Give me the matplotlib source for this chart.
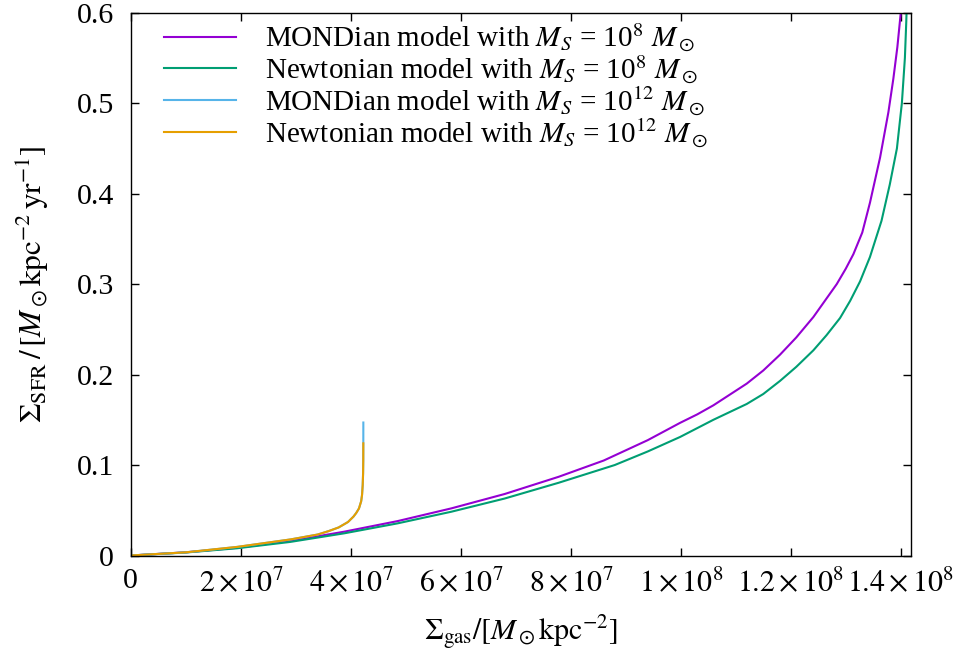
import matplotlib
matplotlib.use("Agg")
import matplotlib.pyplot as plt
import numpy as np

plt.rcParams['font.family'] = ['Liberation Serif', 'DejaVu Serif']
plt.rcParams['mathtext.fontset'] = 'stix'

### DATA ###
# Sigma_gas in units of 1e7 M_sun/kpc^2, Sigma_SFR in M_sun/kpc^2/yr
mond8_x = [0, 1.0, 1.935, 2.9, 3.88, 4.85, 5.83, 6.8, 7.78, 8.6, 9.40, 9.987, 10.3, 10.593, 11.2,
           11.5, 11.805, 12.1, 12.411, 12.836, 13.0, 13.138, 13.3, 13.44, 13.624, 13.775, 13.865,
           13.938, 14.0, 14.03]
mond8_y = [0, 0.0035, 0.0085, 0.016, 0.0263, 0.038, 0.0521, 0.068, 0.087, 0.105, 0.1275, 0.1466,
           0.156, 0.166, 0.190, 0.2045, 0.222, 0.241, 0.2636, 0.300, 0.317, 0.333, 0.357, 0.390,
           0.440, 0.490, 0.527, 0.562, 0.600, 0.63]

newt8_x = [0, 1.0, 1.935, 2.9, 3.88, 4.85, 5.83, 6.8, 7.78, 8.8, 9.4, 9.987, 10.593, 11.2, 11.5,
           11.805, 12.1, 12.411, 12.65, 12.896, 13.08, 13.26, 13.44, 13.65, 13.80, 13.93, 14.02,
           14.075, 14.10, 14.115]
newt8_y = [0, 0.0033, 0.0080, 0.015, 0.0245, 0.0355, 0.0484, 0.063, 0.0804, 0.100, 0.115, 0.131,
           0.150, 0.1675, 0.1785, 0.193, 0.2085, 0.2268, 0.2435, 0.2625, 0.2815, 0.303, 0.330,
           0.37, 0.41, 0.45, 0.50, 0.55, 0.59, 0.62]

mond12_x = [0, 1.0, 1.935, 2.91, 3.4, 3.6, 3.78, 3.95, 4.05, 4.1, 4.15, 4.19, 4.206, 4.218,
            4.225, 4.228, 4.229, 4.2295]
mond12_y = [0, 0.0035, 0.0095, 0.0178, 0.0232, 0.027, 0.031, 0.037, 0.043, 0.047, 0.052, 0.060,
            0.067, 0.078, 0.091, 0.105, 0.124, 0.147]

newt12_x = [0, 1.0, 1.935, 2.91, 3.4, 3.6, 3.78, 3.95, 4.05, 4.1, 4.15, 4.19, 4.206, 4.218,
            4.225, 4.228, 4.229]
newt12_y = [0, 0.0035, 0.0095, 0.0178, 0.0232, 0.027, 0.031, 0.037, 0.043, 0.047, 0.052, 0.060,
            0.067, 0.078, 0.091, 0.105, 0.124]

labels = [r'MONDian model with $M_S$ = 10$^{8}$ $M_\odot$',
          r'Newtonian model with $M_S$ = 10$^{8}$ $M_\odot$',
          r'MONDian model with $M_S$ = 10$^{12}$ $M_\odot$',
          r'Newtonian model with $M_S$ = 10$^{12}$ $M_\odot$']
colors = ['#9400d3', '#009e73', '#56b4e9', '#e69f00']

xticks = [0, 2e7, 4e7, 6e7, 8e7, 1e8, 1.2e8, 1.4e8]
xticklabels = ['0', r'$2\times10^{7}$', r'$4\times10^{7}$', r'$6\times10^{7}$', r'$8\times10^{7}$',
               r'$1\times10^{8}$', r'$1.2\times10^{8}$', r'$1.4\times10^{8}$']
yticks = [0, 0.1, 0.2, 0.3, 0.4, 0.5, 0.6]
yticklabels = ['0', '0.1', '0.2', '0.3', '0.4', '0.5', '0.6']

fs = 21.5

fig = plt.figure(figsize=(9.56, 6.52), dpi=100)
ax = fig.add_axes([130.7/956, 96.5/652, (911.0-130.7)/956, (555.5-12.7)/652])

series = [(mond8_x, mond8_y), (newt8_x, newt8_y), (mond12_x, mond12_y), (newt12_x, newt12_y)]
for (xs, ys), c, lab in zip(series, colors, labels):
    ax.plot(np.array(xs) * 1e7, ys, color=c, lw=1.5, label=lab)

ax.set_xlim(0, 1.4186e8)
ax.set_ylim(0, 0.6)
ax.set_xticks(xticks)
ax.set_xticklabels(xticklabels)
ax.set_yticks(yticks)
ax.set_yticklabels(yticklabels)
ax.tick_params(direction='in', top=True, right=True, length=6, width=1, labelsize=fs)
ax.tick_params(axis='x', pad=9)
ax.tick_params(axis='y', pad=12)
for s in ax.spines.values():
    s.set_linewidth(1)

ax.set_xlabel(r'$\Sigma_{\rm gas}/[M_\odot{\rm kpc}^{-2}]$', fontsize=fs, labelpad=12)
ax.set_ylabel(r'$\Sigma_{\rm SFR}\,/\,[M_\odot{\rm kpc}^{-2}\,{\rm yr}^{-1}]$', fontsize=22.5,
              labelpad=18)

ax.legend(loc='upper left', frameon=False, fontsize=21, handlelength=2.45, handletextpad=1.0,
          labelspacing=-0.04, borderaxespad=0.0, bbox_to_anchor=(0.028, 1.005))

fig.savefig('out.png', dpi=100)
